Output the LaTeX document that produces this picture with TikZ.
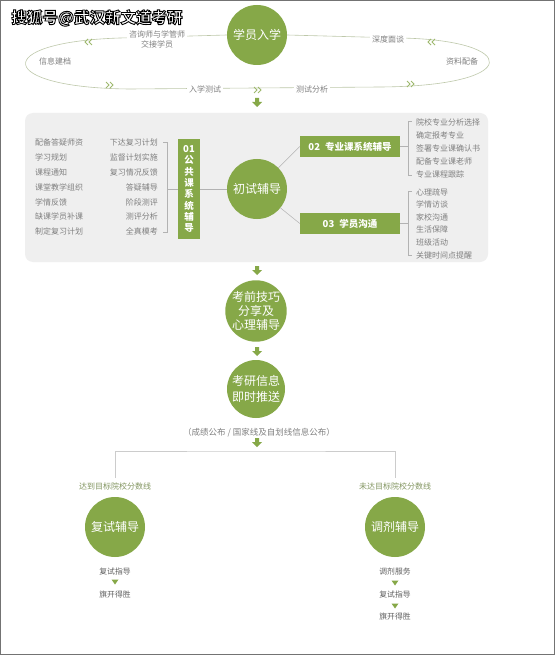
\documentclass[tikz,border=0pt]{standalone}
\usepackage{fontspec}
\setmainfont{Noto Sans CJK SC}
\usetikzlibrary{positioning}
\definecolor{hoja}{RGB}{134,168,72}
\definecolor{tinta}{RGB}{128,128,128}
\definecolor{oscuro}{RGB}{95,95,95}
\definecolor{panel}{RGB}{239,239,239}
\definecolor{lazocol}{RGB}{190,200,170}
\newcommand\contorno[1]{\special{pdf:literal direct 0 0 0 RG 0.9 w 2 Tr}#1\special{pdf:literal direct 0 Tr}}
\tikzset{
  etapa/.style={circle, fill=hoja, text=white, minimum size=60pt, inner sep=0pt, align=center, font=\fontsize{12}{15}\selectfont},
  etiqueta/.style={fill=hoja, text=white, minimum width=100pt, minimum height=21pt, inner sep=0pt, font=\fontsize{9.5}{11}\selectfont\bfseries},
  item/.style={text=tinta, inner sep=0pt, font=\fontsize{8}{10}\selectfont},
  paso/.style={text=oscuro, inner sep=0pt, font=\fontsize{7.8}{9}\selectfont},
  sobre/.style={item, fill=white, inner sep=2pt, align=center},
  lazo/.style={draw=lazocol, line width=0.6pt},
  brack/.style={draw=black!30, line width=0.5pt},
  marca/.style={inner sep=0pt, text=white, font=\fontsize{15.5}{16}\selectfont\bfseries},
  pics/cheurona/.style={code={\draw[hoja!80, line width=1pt] (-4,-3) -- (-1,0) -- (-4,3) (0,-3) -- (3,0) -- (0,3);}},
  pics/bajada/.style={code={\fill[hoja] (-2,-5) rectangle (2,-1) (-5,-1) -- (5,-1) -- (0,4) -- cycle;}},
  pics/punta/.style={code={\fill[hoja] (-3.5,-2.5) -- (3.5,-2.5) -- (0,2.5) -- cycle;}}
}
\begin{document}
\begin{tikzpicture}[x=1pt, y=-1pt]
  \useasboundingbox (0,0) rectangle (555,655);
  \fill[white] (0,0) rectangle (555,655);
  \draw[black!55] (0.5,0.5) rectangle (554.5,654.5);

  % Ingreso y lazo de atencion
  \node[etapa] (enroll) at (257,35) {学员入学};
  \draw[lazo] (enroll.west) -- (120,38) .. controls (-10,42) and (-5,88) .. (130,89) -- (380,87) .. controls (525,86) and (520,40) .. (400,38) -- (enroll.east);
  \node[sobre] (handover) at (157,39) {咨询师与学管师\\交接学员};
  \node[item] (archive) at (55,61) {信息建档};
  \node[sobre] (entrytest) at (205,89) {入学测试};
  \node[sobre] (analysis) at (312,89) {测试分析};
  \node[sobre] (interview) at (388,39) {深度面谈};
  \node[item] (material) at (462,61) {资料配备};
  \pic[rotate=180] at (88,42) {cheurona};
  \pic at (110,85) {cheurona};
  \pic at (258,90) {cheurona};
  \pic[rotate=180] at (431,42) {cheurona};
  \pic at (411,84) {cheurona};
  \pic at (257,103) {bajada};

  % Panel del examen inicial
  \fill[panel, rounded corners=8pt] (25,113) rectangle (488,262);
  \foreach \t [count=\i] in {配备答疑师资,学习规划,课程通知,课堂教学组织,学情反馈,缺课学员补课,制定复习计划}
    \node[item, anchor=west] (izq\i) at (35,128+14.8*\i) {\t};
  \foreach \t [count=\i] in {下达复习计划,监督计划实施,复习情况反馈,答疑辅导,阶段测评,测评分析,全真模考}
    \node[item, anchor=east] (med\i) at (158,128+14.8*\i) {\t};
  \node[fill=hoja, text=white, minimum width=22pt, minimum height=100pt, inner sep=0pt, align=center,
        font=\fontsize{9.5}{11.3}\selectfont\bfseries] (box01) at (189,189) {01\\公\\共\\课\\系\\统\\辅\\导};
  \draw[brack] (163,142) -- (167,142) -- (167,232) -- (163,232);
  \draw[brack] (167,189) -- (box01.west);

  \node[etapa] (initial) at (257,189) {初试辅导};
  \draw[brack] (box01.east) -- (initial);
  \node[etiqueta] (box02) at (350,146.5) {02\hspace{5pt}专业课系统辅导};
  \node[etiqueta] (box03) at (350,223.5) {03\hspace{5pt}学员沟通};
  \draw[brack] (initial) -- (box02.west);
  \draw[brack] (initial) -- (box03.west);

  \foreach \t [count=\i] in {院校专业分析选择,确定报考专业,签署专业课确认书,配备专业课老师,专业课程跟踪}
    \node[item, anchor=west] (pro\i) at (416,110+12.9*\i) {\t};
  \draw[brack] (412,121) -- (408,121) -- (408,175) -- (412,175);
  \draw[brack] (box02.east) -- (408,146.5);
  \foreach \t [count=\i] in {心理疏导,学情访谈,家校沟通,生活保障,班级活动,关键时间点提醒}
    \node[item, anchor=west] (com\i) at (416,179.5+12.6*\i) {\t};
  \draw[brack] (412,191) -- (408,191) -- (408,255) -- (412,255);
  \draw[brack] (box03.east) -- (408,223.5);

  % Columna central
  \pic at (257,271) {bajada};
  \node[etapa, minimum size=58pt, font=\fontsize{12}{13.8}\selectfont] (pretips) at (256,311) {考前技巧\\分享及\\心理辅导};
  \pic at (257,352) {bajada};
  \node[etapa, minimum size=58pt, font=\fontsize{12}{16}\selectfont] (infopush) at (256,389) {考研信息\\即时推送};
  \node[item, font=\fontsize{8.5}{10}\selectfont] (notice) at (259,433) {（成绩公布 / 国家线及自划线信息公布）};
  \pic at (257,443) {bajada};

  % Ramas finales
  \coordinate (cruce) at (257,451);
  \coordinate (ramaL) at (115,478);
  \coordinate (ramaR) at (395,478);
  \draw[brack, draw=black!20] (ramaL) |- (cruce) -| (ramaR);
  \node[item, text=hoja!55!tinta] (reach) at (115,486) {达到目标院校分数线};
  \node[item, text=hoja!55!tinta] (miss) at (395,486) {未达目标院校分数线};

  \node[etapa] (retest) at (115,527) {复试辅导};
  \node[paso] (guideL) at (115,572) {复试指导};
  \pic at (115,582) {punta};
  \node[paso] (winL) at (115,595) {旗开得胜};

  \node[etapa] (adjust) at (395,527) {调剂辅导};
  \node[paso] (service) at (395,572) {调剂服务};
  \pic at (395,583) {punta};
  \node[paso] (guideR) at (395,595) {复试指导};
  \pic at (395,606) {punta};
  \node[paso] (winR) at (395,617) {旗开得胜};

  % Marca de agua
  \node[marca] (marca) at (97,18) {\contorno{搜狐号@武汉新文道考研}};
\end{tikzpicture}
\end{document}
